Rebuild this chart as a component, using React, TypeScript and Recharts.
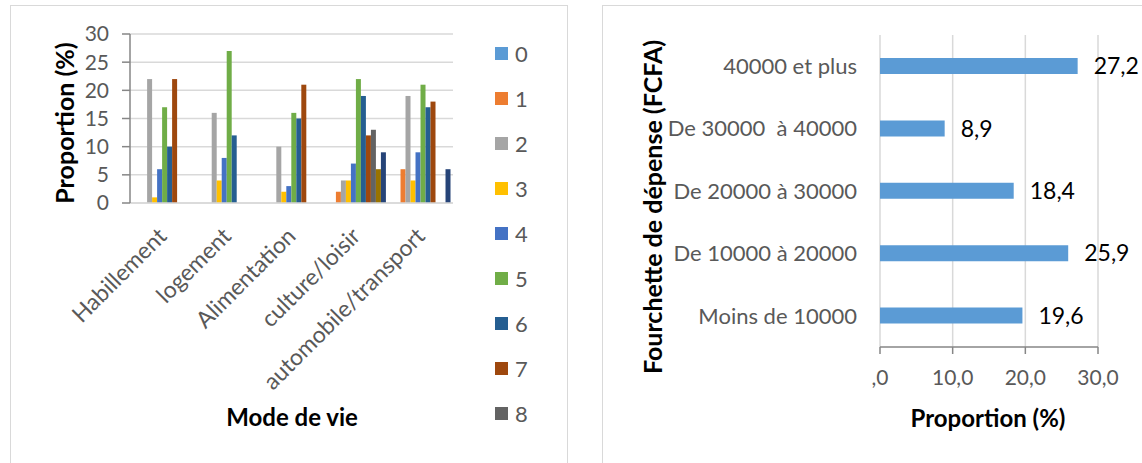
import React from "react";
import { BarChart, Bar, XAxis, YAxis, CartesianGrid, Legend, LabelList } from "recharts";

// Graphique 1 : mode de vie
const modes = ["Habillement", "logement", "Alimentation", "culture/loisir", "automobile/transport"];
const serie0 = [0, 0, 0, 0, 0];
const serie1 = [0, 0, 0, 2, 6];
const serie2 = [22, 16, 10, 4, 19];
const serie3 = [1, 4, 2, 4, 4];
const serie4 = [6, 8, 3, 7, 9];
const serie5 = [17, 27, 16, 22, 21];
const serie6 = [10, 12, 15, 19, 17];
const serie7 = [22, 0, 21, 12, 18];
const serie8 = [0, 0, 0, 13, 0];
const serie9 = [0, 0, 0, 6, 0];
const serie10 = [0, 0, 0, 9, 6];
const seriesNames = ["0", "1", "2", "3", "4", "5", "6", "7", "8", "9", "10"];
const modeTicks = [0, 5, 10, 15, 20, 25, 30];

// Graphique 2 : fourchette de dépense
const tranches = ["40000 et plus", "De 30000  à 40000", "De 20000 à 30000", "De 10000 à 20000", "Moins de 10000"];
const proportions = [27.2, 8.9, 18.4, 25.9, 19.6];
const proportionTicks = [0, 10, 20, 30];

const COLORS = [
  "#5b9bd5", "#ed7d31", "#a5a5a5", "#ffc000", "#4472c4", "#70ad47",
  "#255e91", "#9e480e", "#636363", "#997300", "#264478",
];

const FONT = "Lato, Carlito, Calibri, sans-serif";
const GRID = "#d9d9d9";
const AXIS = "#868686";
const TEXT = "#595959";

const allSeries = [serie0, serie1, serie2, serie3, serie4, serie5, serie6, serie7, serie8, serie9, serie10];
const modeData = modes.map((mode, i) => {
  const row: Record<string, string | number> = { mode };
  seriesNames.forEach((name, s) => {
    row[name] = allSeries[s][i];
  });
  return row;
});

const trancheData = tranches.map((tranche, i) => ({ tranche, value: proportions[i] }));

const fmtComma = (v: number) => (v === 0 ? ",0" : v.toFixed(1).replace(".", ","));

const ModeTick = ({ x, y, payload }: any) => (
  <text
    x={x}
    y={y}
    dy="0.35em"
    textAnchor="end"
    transform={`rotate(-45, ${x}, ${y})`}
    fill={TEXT}
    fontSize={23}
    fontFamily={FONT}
  >
    {payload.value}
  </text>
);

const TrancheTick = ({ x, y, payload }: any) => (
  <text x={x} y={y} dy="0.35em" textAnchor="end" fill={TEXT} fontSize={22} fontFamily={FONT} style={{ whiteSpace: "pre" }}>
    {payload.value}
  </text>
);

// Excel coupe la légende après "8"
const ModeLegend = (props: any) => {
  const items = (props.payload || [])
    .slice()
    .sort((a: any, b: any) => seriesNames.indexOf(String(a.value)) - seriesNames.indexOf(String(b.value)))
    .slice(0, 9);
  return (
    <div style={{ fontFamily: FONT }}>
      {items.map((entry: any) => (
        <div key={entry.value} style={{ display: "flex", alignItems: "center", height: 45 }}>
          <span style={{ width: 13, height: 13, background: entry.color, display: "inline-block" }} />
          <span style={{ marginLeft: 7, fontSize: 22, color: TEXT }}>{entry.value}</span>
        </div>
      ))}
    </div>
  );
};

const titleStyle: React.CSSProperties = {
  position: "absolute",
  fontFamily: FONT,
  fontWeight: 700,
  fontSize: 24,
  color: "#000",
  whiteSpace: "nowrap",
  transform: "translate(-50%, -50%)",
  lineHeight: 1,
};

export default function App() {
  return (
    <div style={{ position: "fixed", left: 0, top: 0, width: 1142, height: 463, overflow: "hidden", background: "#fff" }}>
      <div style={{ position: "absolute", left: 10, top: 5, width: 556, height: 500, border: `1.5px solid ${GRID}` }} />
      <div style={{ position: "absolute", left: 602, top: 5, width: 600, height: 500, border: `1.5px solid ${GRID}` }} />

      <div style={{ position: "absolute", left: 0, top: 0 }}>
        <BarChart
          width={560}
          height={463}
          data={modeData}
          margin={{ top: 34, right: 107, bottom: 20, left: 60 }}
          barCategoryGap="11%"
          barGap={0}
        >
          <CartesianGrid vertical={false} stroke={GRID} strokeWidth={1.5} />
          <XAxis
            dataKey="mode"
            interval={0}
            height={240}
            tickLine={false}
            tickSize={0}
            tickMargin={29}
            axisLine={{ stroke: GRID, strokeWidth: 1.5 }}
            tick={<ModeTick />}
          />
          <YAxis
            domain={[0, 30]}
            ticks={modeTicks}
            interval={0}
            width={70}
            tickSize={8}
            tickMargin={13}
            axisLine={{ stroke: AXIS, strokeWidth: 1.5 }}
            tickLine={{ stroke: AXIS, strokeWidth: 1.5 }}
            tick={{ fill: TEXT, fontSize: 21, fontFamily: FONT }}
          />
          <Legend
            layout="vertical"
            align="center"
            verticalAlign="middle"
            content={<ModeLegend />}
            wrapperStyle={{ left: 495, top: 31, width: 60 }}
          />
          {seriesNames.map((name, s) => (
            <Bar key={name} dataKey={name} name={name} fill={COLORS[s]} isAnimationActive={false} />
          ))}
        </BarChart>
      </div>
      <div style={{ ...titleStyle, fontSize: 25, left: 64, top: 123, transform: "translate(-50%, -50%) rotate(-90deg)" }}>
        Proportion (%)
      </div>
      <div style={{ ...titleStyle, left: 292, top: 417 }}>Mode de vie</div>

      <div style={{ position: "absolute", left: 600, top: 0 }}>
        <BarChart
          layout="vertical"
          width={542}
          height={463}
          data={trancheData}
          margin={{ top: 35, right: 44, bottom: 56, left: 0 }}
        >
          <CartesianGrid horizontal={false} stroke={GRID} strokeWidth={1.5} />
          <XAxis
            type="number"
            domain={[0, 30]}
            ticks={proportionTicks}
            interval={0}
            height={60}
            tickSize={7}
            tickMargin={16}
            tickFormatter={fmtComma}
            axisLine={{ stroke: AXIS, strokeWidth: 1.5 }}
            tickLine={{ stroke: AXIS, strokeWidth: 1.5 }}
            tick={{ fill: TEXT, fontSize: 21, fontFamily: FONT }}
          />
          <YAxis
            type="category"
            dataKey="tranche"
            interval={0}
            width={280}
            axisLine={false}
            tickLine={false}
            tickSize={0}
            tickMargin={23}
            tick={<TrancheTick />}
          />
          <Bar dataKey="value" fill="#5b9bd5" barSize={16} isAnimationActive={false}>
            <LabelList
              dataKey="value"
              position="right"
              offset={16}
              formatter={(v: any) => fmtComma(Number(v))}
              fill="#000"
              fontSize={23}
              fontFamily={FONT}
            />
          </Bar>
        </BarChart>
      </div>
      <div style={{ ...titleStyle, fontSize: 25, left: 652, top: 207, transform: "translate(-50%, -50%) rotate(-90deg)" }}>
        Fourchette de dépense (FCFA)
      </div>
      <div style={{ ...titleStyle, left: 988, top: 418 }}>Proportion (%)</div>
    </div>
  );
}
